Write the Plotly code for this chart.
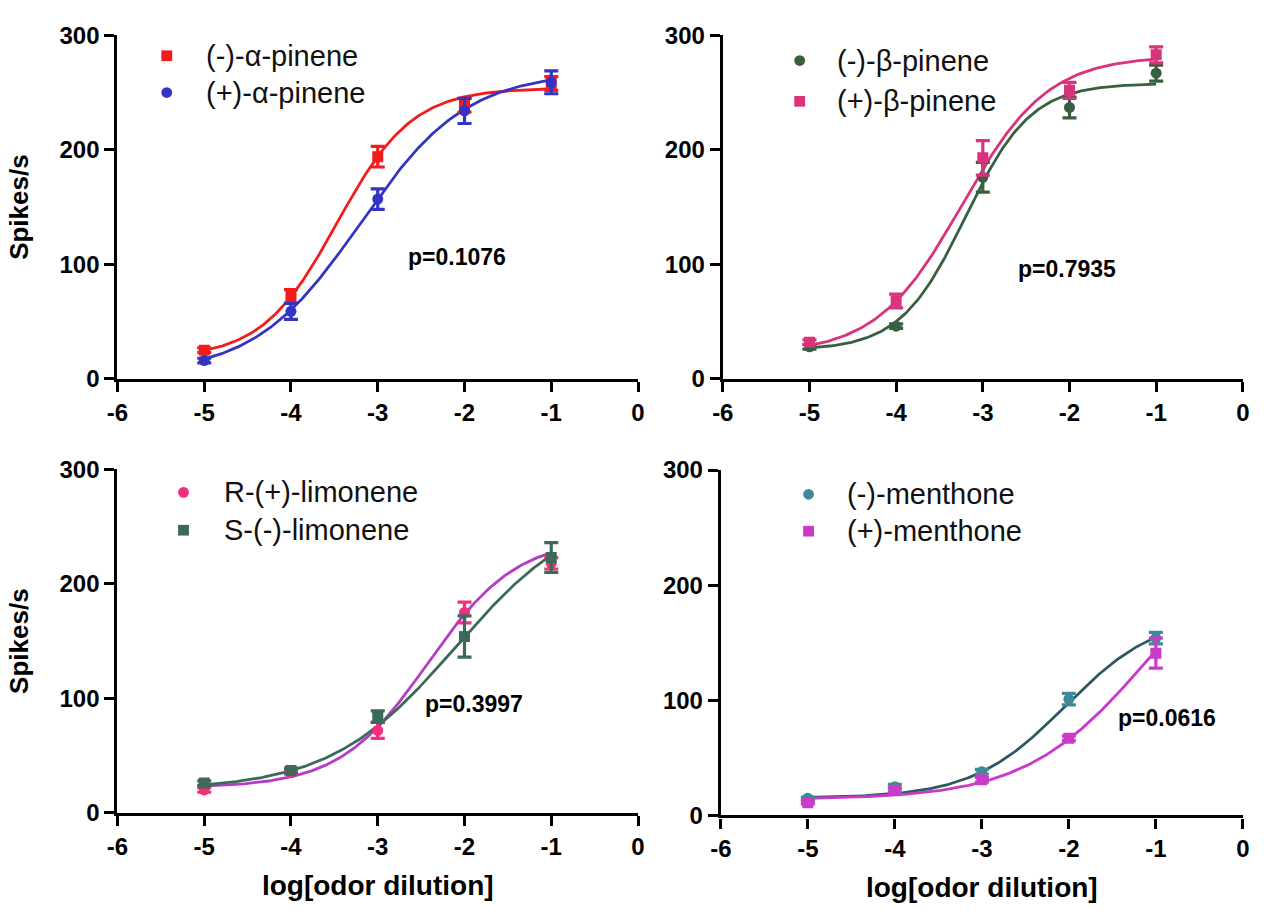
import numpy as np
import plotly.graph_objects as go

W, H = 1274, 910

# log10 odor dilution steps
log_dilution = [-5, -4, -3, -2, -1]

# Panel A: alpha-pinene enantiomers
a_minus = [25, 72, 194, 239, 258]
a_minus_err = [2, 6, 9, 6, 6]
a_plus = [16, 59, 157, 234, 259]
a_plus_err = [2, 7, 9, 11, 10]

# Panel B: beta-pinene enantiomers
b_minus = [28, 46, 176, 237, 267]
b_minus_err = [2, 2, 13, 9, 7]
b_plus = [32, 68, 193, 252, 283]
b_plus_err = [2, 6, 15, 7, 7]

# Panel C: limonene enantiomers
lim_r = [20, 36, 72, 175, 218]
lim_r_err = [2, 2, 7, 9, 5]
lim_s = [26, 37, 84, 154, 223]
lim_s_err = [2, 2, 5, 18, 13]

# Panel D: menthone enantiomers
men_minus = [15, 25, 38, 101, 154]
men_minus_err = [1, 2, 2, 5, 5]
men_plus = [11, 22, 31, 67, 141]
men_plus_err = [1, 2, 2, 2, 13]

# Four-parameter logistic fits: bottom, top, logEC50, hill slope
fit_a_minus = (18, 254, -3.47, 1.0)
fit_a_plus = (4, 268, -3.20, 0.71)
fit_b_minus = (25, 258, -3.20, 1.15)
fit_b_plus = (22, 282, -3.24, 0.88)
fit_lim_r = (22, 240, -2.42, 0.85)
fit_lim_s = (20, 270, -2.10, 0.60)
fit_men_minus = (15, 175, -2.04, 0.81)
fit_men_plus = (14, 255, -1.10, 0.62)

p_values = ["p=0.1076", "p=0.7935", "p=0.3997", "p=0.0616"]

FONT = "Arial, Liberation Sans, Helvetica, sans-serif"


def logistic(x, params):
    bottom, top, ec50, hill = params
    return bottom + (top - bottom) / (1 + 10 ** ((ec50 - x) * hill))


def px(x):
    return x / W


def py(y):
    return 1 - y / H


fig = go.Figure()

# pixel boxes of each panel: left, right, top, bottom
boxes = {
    1: (108, 636, 22, 376),
    2: (722, 1249.5, 22, 376),
    3: (108, 636, 469.3, 823.3),
    4: (720, 1249.5, 470, 826),
}

panels = [
    (1, [
        ("(-)-α-pinene", a_minus, a_minus_err, fit_a_minus, "#f21c1c", "#f21c1c", "square"),
        ("(+)-α-pinene", a_plus, a_plus_err, fit_a_plus, "#3434c4", "#3434c4", "circle"),
    ]),
    (2, [
        ("(-)-β-pinene", b_minus, b_minus_err, fit_b_minus, "#36603f", "#36603f", "circle"),
        ("(+)-β-pinene", b_plus, b_plus_err, fit_b_plus, "#d8337c", "#d8337c", "square"),
    ]),
    (3, [
        ("R-(+)-limonene", lim_r, lim_r_err, fit_lim_r, "#f52e7c", "#b63cc6", "circle"),
        ("S-(-)-limonene", lim_s, lim_s_err, fit_lim_s, "#3d6a58", "#3d6a58", "square"),
    ]),
    (4, [
        ("(-)-menthone", men_minus, men_minus_err, fit_men_minus, "#3f8a98", "#2f5962", "circle"),
        ("(+)-menthone", men_plus, men_plus_err, fit_men_plus, "#c93ac9", "#c93ac9", "square"),
    ]),
]

xs = np.linspace(-5, -1, 200)

for idx, series in panels:
    xa = "x" if idx == 1 else f"x{idx}"
    ya = "y" if idx == 1 else f"y{idx}"
    for name, vals, errs, fit, mcol, lcol, sym in series:
        fig.add_trace(go.Scatter(
            x=xs, y=logistic(xs, fit), mode="lines",
            line=dict(color=lcol, width=2.8), xaxis=xa, yaxis=ya,
            showlegend=False, hoverinfo="skip"))
    for name, vals, errs, fit, mcol, lcol, sym in series:
        fig.add_trace(go.Scatter(
            x=log_dilution, y=vals, mode="markers", name=name,
            marker=dict(symbol=sym, size=11, color=mcol),
            error_y=dict(type="data", array=errs, visible=True,
                         color=mcol, thickness=3.2, width=7),
            xaxis=xa, yaxis=ya, showlegend=False))

layout = dict(
    width=W, height=H,
    margin=dict(l=0, r=0, t=0, b=0),
    paper_bgcolor="white", plot_bgcolor="white",
    font=dict(family=FONT, color="black"),
)

for idx, (x0, x1, y0, y1) in boxes.items():
    sx = "xaxis" if idx == 1 else f"xaxis{idx}"
    sy = "yaxis" if idx == 1 else f"yaxis{idx}"
    ya = "y" if idx == 1 else f"y{idx}"
    xa = "x" if idx == 1 else f"x{idx}"
    common = dict(showline=True, linecolor="black", linewidth=3.2,
                  ticks="outside", ticklen=10, tickwidth=3, tickcolor="black",
                  showgrid=False, zeroline=False,
                  tickfont=dict(family=FONT, size=24, color="black", weight="bold"))
    layout[sx] = dict(domain=[px(x0), px(x1)], range=[-6, 0], tickvals=[-6, -5, -4, -3, -2, -1, 0],
                      ticktext=["-6", "-5", "-4", "-3", "-2", "-1", "0"],
                      anchor=ya, **common)
    layout[sy] = dict(domain=[py(y1), py(y0)], range=[0, 300], tickvals=[0, 100, 200, 300],
                      anchor=xa, **common)
    if idx in (1, 3):
        layout[sy]["title"] = dict(text="Spikes/s", standoff=24,
                                   font=dict(family=FONT, size=26, weight="bold", color="black"))
    if idx in (3, 4):
        layout[sx]["title"] = dict(text="log[odor dilution]", standoff=17,
                                   font=dict(family=FONT, size=28, weight="bold", color="black"))

fig.update_layout(**layout)

shapes = []
annotations = []

# legends drawn as symbol + label per panel
legend_pos = {
    1: (158, 196, [43, 81]),
    2: (800, 836, [48, 90]),
    3: (175, 214, [493, 532]),
    4: (809, 846, [495, 533]),
}
for idx, series in panels:
    mx, tx, ys = legend_pos[idx]
    for (name, vals, errs, fit, mcol, lcol, sym), yy in zip(series, ys):
        s = 5.5
        shapes.append(dict(type="rect" if sym == "square" else "circle",
                           xref="paper", yref="paper",
                           x0=px(mx - s), x1=px(mx + s), y0=py(yy + s), y1=py(yy - s),
                           fillcolor=mcol, line=dict(width=0)))
        annotations.append(dict(text=name, xref="paper", yref="paper",
                                x=px(tx), y=py(yy), xanchor="left", yanchor="middle",
                                showarrow=False,
                                font=dict(family=FONT, size=29, color="#111111")))

p_pos = [(452, 250), (1071, 263), (470, 711), (1173, 726)]
for (cx, cy), txt in zip(p_pos, p_values):
    annotations.append(dict(text=txt, xref="paper", yref="paper", x=px(cx), y=py(cy),
                            xanchor="center", yanchor="middle", showarrow=False,
                            font=dict(family=FONT, size=23, weight="bold", color="black")))

fig.update_layout(shapes=shapes, annotations=annotations)

fig.write_html("out.html")
